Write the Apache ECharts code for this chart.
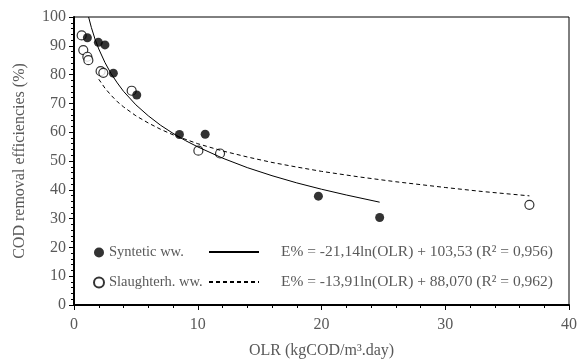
<!DOCTYPE html>
<html>
  <head>
    <meta charset="utf-8">
    <title>COD removal vs OLR</title>
    <script src="https://cdn.jsdelivr.net/npm/echarts@6/dist/echarts.min.js"></script>
  </head>
  <body style="margin:0">
    <div id="main" style="width:577px;height:360px;"></div>
    <script>
// measured points (x = OLR, y = E%)
var synX = [1.08, 1.97, 2.5, 3.18, 5.07, 8.52, 10.6, 19.75, 24.7];
var synY = [92.8, 91.2, 90.3, 80.5, 72.9, 59.2, 59.3, 37.8, 30.4];
var slaX = [0.62, 0.75, 1.08, 1.16, 2.15, 2.37, 4.66, 10.05, 11.8, 36.8];
var slaY = [93.6, 88.5, 86.2, 85.0, 81.2, 80.6, 74.4, 53.6, 52.6, 34.8];

// trend curves
var synFitX = [1.18, 1.4, 1.7, 2, 2.5, 3, 3.5, 4, 5, 6, 7, 8, 9, 10, 12, 14, 16, 18, 20, 22, 24.7];
var synFitY = [100, 96.4, 92.3, 88.9, 84.2, 80.3, 77.1, 74.2, 69.5, 65.7, 62.4, 59.6, 57.1, 54.9, 51.0, 47.7, 44.9, 42.4, 40.2, 38.2, 35.7];
var slaFitX = [2, 2.5, 3, 3.5, 4, 5, 6, 7, 8, 10, 12, 14, 16, 18, 20, 23, 26, 30, 33, 36.8];
var slaFitY = [78.4, 75.3, 72.8, 70.6, 68.8, 65.7, 63.2, 61.0, 59.1, 56.0, 53.5, 51.4, 49.5, 47.9, 46.4, 44.5, 42.8, 40.8, 39.4, 37.9];

var names = ['Syntetic ww.', 'Slaughterh. ww.'];
var equations = ['E% = -21,14ln(OLR) + 103,53 (R² = 0,956)', 'E% = -13,91ln(OLR) + 88,070 (R² = 0,962)'];

function pairs(xs, ys) {
  return xs.map(function (x, i) { return [x, ys[i]]; });
}

var font = 'Liberation Serif';
var grey = '#595959';

var myChart = echarts.init(document.getElementById('main'));
myChart.setOption({
  animation: false,
  grid: {
    left: 74, right: 8, top: 17, bottom: 55, outerBoundsMode: 'none',
    show: true, borderColor: '#000', borderWidth: 1
  },
  legend: [{
    data: names,
    orient: 'vertical',
    left: 88, top: 240,
    itemWidth: 10, itemHeight: 10, itemGap: 15,
    textStyle: {fontFamily: font, fontSize: 14.5, color: grey}
  }, {
    data: ['fitSyn', 'fitSla'],
    orient: 'vertical',
    left: 203, top: 239,
    itemWidth: 50, itemHeight: 10, itemGap: 14,
    itemStyle: {opacity: 0},
    formatter: function (n) { return n === 'fitSyn' ? equations[0] : equations[1]; },
    textStyle: {fontFamily: font, fontSize: 15.5, color: grey, padding: [0, 0, 0, 17]}
  }],
  xAxis: {
    type: 'value', min: 0, max: 40, interval: 10,
    name: 'OLR (kgCOD/m³.day)', nameLocation: 'middle', nameGap: 38,
    nameTextStyle: {fontFamily: font, fontSize: 16, color: grey},
    axisLine: {lineStyle: {color: '#000', width: 2}},
    axisTick: {length: 5, lineStyle: {color: '#000'}},
    minorTick: {show: true, splitNumber: 5, length: 3, lineStyle: {color: '#000'}},
    splitLine: {show: false},
    axisLabel: {fontFamily: font, fontSize: 16, color: grey, margin: 12}
  },
  yAxis: {
    type: 'value', min: 0, max: 100, interval: 10,
    name: 'COD removal efficiencies (%)', nameLocation: 'middle', nameGap: 46,
    nameTextStyle: {fontFamily: font, fontSize: 16, color: grey},
    axisLine: {show: true, lineStyle: {color: '#000', width: 2}},
    axisTick: {show: true, length: 5, lineStyle: {color: '#000'}},
    minorTick: {show: true, splitNumber: 5, length: 3, lineStyle: {color: '#000'}},
    splitLine: {show: false},
    axisLabel: {fontFamily: font, fontSize: 16, color: grey, margin: 8}
  },
  series: [{
    name: 'fitSyn', type: 'line', data: pairs(synFitX, synFitY),
    showSymbol: false, symbol: 'none', symbolSize: 0,
    lineStyle: {color: '#000', width: 1}, itemStyle: {color: '#000'}
  }, {
    name: 'fitSla', type: 'line', data: pairs(slaFitX, slaFitY),
    showSymbol: false, symbol: 'none', symbolSize: 0,
    lineStyle: {color: '#000', width: 1, type: [4, 3]}, itemStyle: {color: '#000'}
  }, {
    name: names[1], type: 'scatter', data: pairs(slaX, slaY),
    symbol: 'circle', symbolSize: 9,
    itemStyle: {color: '#fff', borderColor: '#000', borderWidth: 1.2}
  }, {
    name: names[0], type: 'scatter', data: pairs(synX, synY),
    symbol: 'circle', symbolSize: 9,
    itemStyle: {color: '#000'}
  }]
});
    </script>
  </body>
</html>
